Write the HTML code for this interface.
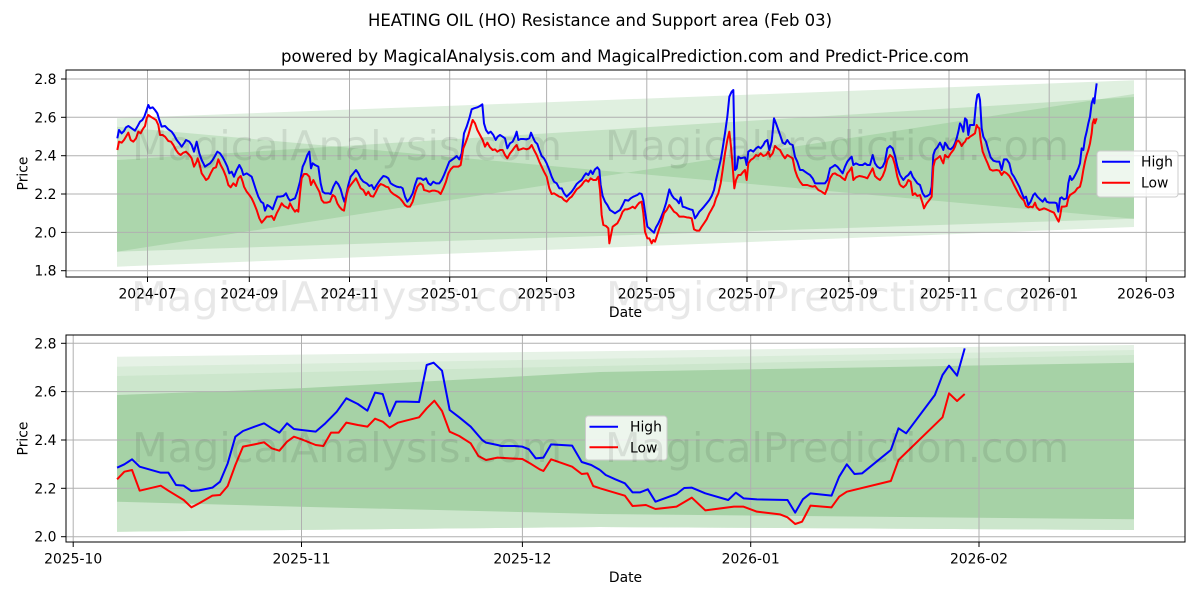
<!DOCTYPE html>
<html><head><meta charset="utf-8"><style>
html,body{margin:0;padding:0;background:#fff}
svg{display:block}
text{font-family:"DejaVu Sans","Liberation Sans",sans-serif;fill:#000}
</style></head><body>
<svg width="1200" height="600" viewBox="0 0 1200 600" xmlns="http://www.w3.org/2000/svg">
<rect width="1200" height="600" fill="#fff"/>

<!-- titles -->
<text x="600" y="26" text-anchor="middle" font-size="16.7" textLength="464" lengthAdjust="spacingAndGlyphs">HEATING OIL (HO) Resistance and Support area (Feb 03)</text>
<text x="625" y="62" text-anchor="middle" font-size="16.7" textLength="688" lengthAdjust="spacingAndGlyphs">powered by MagicalAnalysis.com and MagicalPrediction.com and Predict-Price.com</text>

<!-- ===== TOP CHART ===== -->
<g>
  <polygon points="117,118.3 1134,80.3 1134,227 117,266.7" fill="#008000" fill-opacity="0.12"/>
  <polygon points="117,160 1134,97 1134,218.7 117,251.7" fill="#008000" fill-opacity="0.12"/>
  <polygon points="117,126.7 1134,218.7 1134,94 117,251.7" fill="#008000" fill-opacity="0.12"/>
</g>
<g stroke="#b0b0b0" stroke-width="1" fill="none">
  <line x1="66" y1="79" x2="1185" y2="79"/>
  <line x1="66" y1="117.3" x2="1185" y2="117.3"/>
  <line x1="66" y1="155.7" x2="1185" y2="155.7"/>
  <line x1="66" y1="194" x2="1185" y2="194"/>
  <line x1="66" y1="232.4" x2="1185" y2="232.4"/>
  <line x1="66" y1="270.7" x2="1185" y2="270.7"/>
  <line x1="147.5" y1="70" x2="147.5" y2="277"/>
  <line x1="249.3" y1="70" x2="249.3" y2="277"/>
  <line x1="349.5" y1="70" x2="349.5" y2="277"/>
  <line x1="449.7" y1="70" x2="449.7" y2="277"/>
  <line x1="546.6" y1="70" x2="546.6" y2="277"/>
  <line x1="646.8" y1="70" x2="646.8" y2="277"/>
  <line x1="747" y1="70" x2="747" y2="277"/>
  <line x1="848.8" y1="70" x2="848.8" y2="277"/>
  <line x1="949" y1="70" x2="949" y2="277"/>
  <line x1="1049.2" y1="70" x2="1049.2" y2="277"/>
  <line x1="1146.2" y1="70" x2="1146.2" y2="277"/>
</g>

<!-- top chart series -->
<g fill="none" stroke-width="2" stroke-linejoin="round">
<g transform="translate(100,70) scale(0.333333)">
<polyline vector-effect="non-scaling-stroke" stroke="#0000ff" stroke-width="2" points="52,205 57,180 65,190 72,183 78,172 85,168 95,175 105,182 112,170 120,155 127,150 133,140 140,120 145,105 150,115 158,112 165,120 172,130 178,150 185,170 195,168 205,178 215,185 222,195 230,210 238,220 245,230 252,220 258,210 268,215 275,225 282,245 290,215 298,250 305,270 315,290 322,285 330,280 338,270 345,258 352,245 360,250 368,262 375,275 382,290 388,310 395,305 402,320 410,300 418,285 425,298 430,315 440,310 455,320 460,335 468,360 475,380 483,395 490,400 495,422 502,405 510,410 518,418 525,398 532,380 540,380 550,378 558,370 565,385 570,392 578,388 585,385 592,365 600,335 608,290 615,275 622,255 628,245 633,295 638,280 645,285 655,290 662,340 668,365 675,370 685,370 692,372 700,350 708,335 715,343 722,358 728,380 733,395 738,378 745,345 752,320 760,310 768,300 775,310 782,325 790,335 800,340 808,348 815,345 822,358 830,345 840,330 850,318 858,320 865,325 872,340 880,345 890,350 900,352"/>
<polyline vector-effect="non-scaling-stroke" stroke="#ff0000" stroke-width="2" points="52,240 57,215 65,218 72,210 78,200 85,188 92,210 100,215 108,205 115,185 122,190 128,178 135,168 140,145 145,135 152,140 160,145 168,150 175,165 180,195 188,195 195,200 205,213 213,215 220,225 228,240 235,250 242,255 250,248 258,245 268,255 275,265 282,290 290,275 293,265 298,280 305,310 312,320 318,330 325,325 332,310 340,295 348,292 355,268 362,285 370,300 378,320 385,345 392,352 400,340 408,348 415,325 422,318 428,335 432,350 440,365 448,375 455,385 462,400 470,420 478,445 485,458 492,450 500,440 508,440 515,438 522,450 530,430 538,415 545,400 552,408 560,412 565,415 570,400 578,415 585,425 590,420 595,425 600,370 605,325 612,312 620,312 628,320 633,345 640,330 645,340 650,350 658,365 665,390 672,398 680,398 690,395 698,375 705,380 712,400 718,410 725,418 732,422 740,375 745,355 752,345 760,335 768,325 775,340 782,355 790,360 798,375 805,365 812,378 820,380 828,365 835,350 842,342 850,345 858,350 865,352 872,365 880,372 890,378 900,385"/>
</g>
<g transform="translate(400,70) scale(0.333333)">
<polyline vector-effect="non-scaling-stroke" stroke="#0000ff" stroke-width="2" points="0,350 8,355 15,380 22,395 30,385 38,370 45,345 52,325 62,325 70,330 78,325 85,340 92,345 100,335 108,340 118,340 125,330 132,315 140,295 148,275 155,270 162,265 170,258 178,268 185,250 192,190 200,170 208,145 215,118 222,115 232,112 240,108 247,103 252,160 258,180 265,190 272,185 280,195 287,210 293,200 300,195 308,200 315,205 322,235 330,220 338,215 345,200 350,185 355,210 362,207 370,207 380,208 388,205 393,188 398,200 405,215 412,222 418,240 425,258 432,265 440,280 448,300 455,320 462,335 470,340 478,355 485,355 492,370 500,380 508,372 515,365 522,355 530,342 538,335 545,330 552,318 558,310 565,315 572,302 578,312 585,298 592,292 598,300 602,345 608,378 615,395 622,405 630,420 638,425 645,430 652,425 660,420 668,405 675,390 685,392 692,385 700,380 705,378 712,375 718,370 725,372 730,390 735,425 742,470 748,475 755,482 762,488 768,472 775,460 782,445 790,425 798,400 808,358 815,375 822,385 830,390 837,400 842,382 848,410 855,412 862,415 870,418 878,420 885,445 892,435 898,425 905,418 912,410 920,400 928,390 935,378 942,360 948,330 955,300 962,270 968,235 975,190 982,140 988,80 995,65 1000,60 1005,300 1010,295 1015,260 1022,265 1030,263 1035,262 1040,285 1045,245 1052,240 1060,245 1068,235 1075,230 1082,235 1090,225 1095,215 1102,210 1108,240 1115,215 1122,145 1128,160 1135,180 1142,200 1148,218 1155,222 1162,210 1170,222 1178,225 1185,260 1192,275 1200,300 1208,300 1215,305 1222,310 1230,315 1238,325 1245,340 1255,340 1265,340 1275,340 1282,330 1290,295 1298,290 1305,285 1312,290 1320,300 1328,310 1335,290 1342,275 1350,265 1355,260 1360,285 1368,280 1378,285 1388,285 1395,280 1402,285 1410,285 1418,255 1425,280 1432,290 1440,295 1448,290 1455,275 1462,235 1470,228 1478,235 1485,258 1492,290 1500,315"/>
<polyline vector-effect="non-scaling-stroke" stroke="#ff0000" stroke-width="2" points="0,385 8,395 15,405 22,410 30,410 38,395 45,370 52,350 60,340 68,345 72,360 80,362 88,365 96,362 105,362 115,365 122,372 130,355 138,335 145,310 152,298 160,290 168,290 175,290 182,285 190,235 198,215 205,195 212,170 218,150 225,160 232,180 240,195 248,210 255,230 262,218 270,232 278,240 285,238 292,245 300,240 308,240 315,255 322,265 330,250 338,240 345,230 350,225 355,240 362,238 370,235 380,238 388,235 395,225 402,240 410,255 418,275 425,290 432,305 440,320 448,355 455,372 462,370 470,375 478,380 485,382 492,390 500,395 508,385 515,380 522,370 530,358 538,352 545,345 552,335 558,330 565,335 572,325 580,330 588,330 595,320 600,360 605,435 610,465 618,468 625,475 628,520 632,500 638,470 645,465 652,460 660,445 668,425 675,418 682,418 690,415 698,410 705,415 712,405 718,398 725,395 730,430 735,485 742,505 748,505 755,520 760,510 765,515 770,500 778,475 785,455 792,430 800,420 808,405 815,415 822,425 830,430 838,440 845,440 852,440 860,442 868,443 875,445 882,478 890,482 898,482 905,470 912,460 920,448 928,430 935,418 942,405 948,385 955,370 962,340 968,300 975,250 982,210 988,185 993,230 998,290 1003,355 1008,330 1015,315 1022,315 1030,305 1035,300 1040,330 1045,280 1052,270 1060,265 1068,255 1075,258 1082,250 1090,258 1098,255 1105,245 1110,260 1118,250 1125,228 1132,235 1140,240 1148,255 1155,265 1162,255 1170,260 1178,265 1185,300 1192,320 1200,335 1208,345 1215,345 1222,345 1230,348 1238,350 1245,348 1255,360 1265,365 1275,372 1282,355 1290,325 1298,312 1305,310 1312,315 1320,318 1328,325 1335,330 1342,310 1350,300 1355,292 1360,330 1368,322 1378,318 1388,320 1395,322 1402,325 1410,310 1418,295 1425,318 1432,325 1440,330 1448,318 1455,300 1462,270 1470,255 1478,262 1485,285 1492,320 1500,345"/>
</g>
<g transform="translate(900,70) scale(0.333333)">
<polyline vector-effect="non-scaling-stroke" stroke="#0000ff" stroke-width="2" points="0,315 10,330 18,320 25,315 32,305 38,320 45,330 52,340 60,345 68,370 75,380 82,378 90,372 95,350 100,255 105,240 112,232 120,218 125,228 130,240 135,218 140,225 145,235 152,238 160,230 165,220 170,205 175,185 180,160 185,168 190,185 195,145 200,150 205,195 210,165 215,165 222,165 228,100 232,75 236,72 240,90 245,175 250,200 258,215 265,240 272,262 280,272 290,275 298,275 305,300 312,268 320,268 328,280 335,310 342,320 350,335 358,350 365,368 372,385 378,380 385,405 392,395 400,375 405,370 412,380 420,388 428,395 435,385 440,395 448,398 455,398 465,398 470,400 475,425 480,385 485,382 492,388 500,385 505,340 510,318 515,330 520,325 528,310 535,295 540,280 545,235 550,240 555,205 560,185 565,160 570,140 575,100 580,85 583,100 585,80 590,40"/>
<polyline vector-effect="non-scaling-stroke" stroke="#ff0000" stroke-width="2" points="0,345 10,352 18,345 25,330 32,335 38,375 45,370 52,378 60,375 68,400 72,415 80,400 88,390 95,380 100,290 105,270 112,265 120,258 125,270 130,280 135,255 140,260 145,262 152,250 160,240 165,230 170,215 175,212 180,218 185,228 190,220 195,215 200,205 205,205 210,200 218,195 225,190 230,165 234,172 238,175 242,210 248,245 255,262 262,278 270,298 278,302 290,300 298,302 305,315 312,305 320,310 328,318 335,330 342,345 350,360 358,375 365,385 372,392 378,408 385,412 392,410 398,412 405,398 410,412 418,420 425,418 432,415 440,418 448,422 455,425 462,428 468,440 472,448 476,455 480,440 485,410 492,410 500,408 505,385 510,375 518,370 525,365 532,355 540,350 545,330 550,300 555,275 560,255 565,240 570,220 575,190 578,160 582,148 585,160 590,145"/>
</g>
</g>

<!-- top axes frame & ticks -->
<rect x="66" y="70" width="1119" height="207" fill="none" stroke="#000" stroke-width="1"/>
<g stroke="#000" stroke-width="1">
  <line x1="61" y1="79" x2="66" y2="79"/>
  <line x1="61" y1="117.3" x2="66" y2="117.3"/>
  <line x1="61" y1="155.7" x2="66" y2="155.7"/>
  <line x1="61" y1="194" x2="66" y2="194"/>
  <line x1="61" y1="232.4" x2="66" y2="232.4"/>
  <line x1="61" y1="270.7" x2="66" y2="270.7"/>
  <line x1="147.5" y1="277" x2="147.5" y2="282"/>
  <line x1="249.3" y1="277" x2="249.3" y2="282"/>
  <line x1="349.5" y1="277" x2="349.5" y2="282"/>
  <line x1="449.7" y1="277" x2="449.7" y2="282"/>
  <line x1="546.6" y1="277" x2="546.6" y2="282"/>
  <line x1="646.8" y1="277" x2="646.8" y2="282"/>
  <line x1="747" y1="277" x2="747" y2="282"/>
  <line x1="848.8" y1="277" x2="848.8" y2="282"/>
  <line x1="949" y1="277" x2="949" y2="282"/>
  <line x1="1049.2" y1="277" x2="1049.2" y2="282"/>
  <line x1="1146.2" y1="277" x2="1146.2" y2="282"/>
</g>
<g font-size="13.9" text-anchor="end">
  <text x="56.5" y="84">2.8</text>
  <text x="56.5" y="122.3">2.6</text>
  <text x="56.5" y="160.7">2.4</text>
  <text x="56.5" y="199">2.2</text>
  <text x="56.5" y="237.4">2.0</text>
  <text x="56.5" y="275.7">1.8</text>
</g>
<g font-size="13.9" text-anchor="middle">
  <text x="147.5" y="298.5">2024-07</text>
  <text x="249.3" y="298.5">2024-09</text>
  <text x="349.5" y="298.5">2024-11</text>
  <text x="449.7" y="298.5">2025-01</text>
  <text x="546.6" y="298.5">2025-03</text>
  <text x="646.8" y="298.5">2025-05</text>
  <text x="747" y="298.5">2025-07</text>
  <text x="848.8" y="298.5">2025-09</text>
  <text x="949" y="298.5">2025-11</text>
  <text x="1049.2" y="298.5">2026-01</text>
  <text x="1146.2" y="298.5">2026-03</text>
  <text x="625.5" y="317">Date</text>
  <text transform="translate(27.5,173.5) rotate(-90)">Price</text>
</g>
<!-- top legend -->
<rect x="1097" y="151" width="81" height="46" rx="3" fill="#fff" fill-opacity="0.8" stroke="#cccccc" stroke-width="1"/>
<line x1="1102" y1="161.7" x2="1130" y2="161.7" stroke="#0000ff" stroke-width="2"/>
<line x1="1102" y1="182.7" x2="1130" y2="182.7" stroke="#ff0000" stroke-width="2"/>
<text x="1141" y="166.7" font-size="13.9">High</text>
<text x="1141" y="187.7" font-size="13.9">Low</text>

<!-- ===== BOTTOM CHART ===== -->
<polygon points="117,356.7 1134,345 1134,530 600,527 117,531.7" fill="#e6f2e6"/>
<polygon points="117,366.7 1134,350 1134,530 600,527 117,531.7" fill="#d8ecd8"/>
<polygon points="117,376 1134,355 1134,530 600,527 117,531.7" fill="#cce6cc"/>
<polygon points="117,395 300,388.3 600,372 1134,362.7 1134,519.3 600,514 300,506.7 117,501.7" fill="#a6d2a6"/>
<g stroke="#b0b0b0" stroke-width="1" fill="none">
  <line x1="66" y1="343.3" x2="1185" y2="343.3"/>
  <line x1="66" y1="391.6" x2="1185" y2="391.6"/>
  <line x1="66" y1="440" x2="1185" y2="440"/>
  <line x1="66" y1="488.3" x2="1185" y2="488.3"/>
  <line x1="66" y1="536.7" x2="1185" y2="536.7"/>
  <line x1="73.2" y1="335" x2="73.2" y2="542"/>
  <line x1="301.5" y1="335" x2="301.5" y2="542"/>
  <line x1="522.4" y1="335" x2="522.4" y2="542"/>
  <line x1="750.7" y1="335" x2="750.7" y2="542"/>
  <line x1="979" y1="335" x2="979" y2="542"/>
</g>
<g fill="none" stroke-linejoin="round">
<g transform="translate(0,330) scale(0.3827,0.333333)">
<polyline vector-effect="non-scaling-stroke" stroke="#0000ff" stroke-width="2" points="306,413 325,403 345,388 365,410 420,428 440,428 460,465 480,467 500,483 520,481 555,473 575,455 595,400 615,320 635,303 665,290 690,280 710,295 730,308 750,280 768,297 788,300 825,305 850,280 880,245 905,205 935,222 960,242 980,188 1000,192 1018,258 1035,215 1060,215 1095,216 1115,105 1133,98 1155,122 1175,240 1200,262 1230,290 1260,330 1270,338 1300,345 1310,348 1345,348 1365,350 1382,358 1400,385 1420,383 1440,343 1495,347 1520,396 1545,405 1568,420"/>
<polyline vector-effect="non-scaling-stroke" stroke="#ff0000" stroke-width="2" points="306,448 325,425 345,420 365,482 420,467 440,482 480,510 500,532 520,520 555,497 575,495 595,468 615,405 635,350 665,343 690,337 710,355 730,362 750,335 768,320 788,328 825,345 845,348 865,308 885,308 905,278 935,285 960,290 980,266 1000,275 1018,293 1040,278 1060,272 1095,262 1115,235 1135,212 1155,243 1175,305 1200,318 1230,340 1250,378 1270,390 1300,383 1365,387 1385,400 1410,418 1420,423 1440,388 1495,410 1520,432 1535,430 1550,468 1568,475"/>
</g>
<g transform="translate(600,330) scale(0.3827,0.333333)">
<polyline vector-effect="non-scaling-stroke" stroke="#0000ff" stroke-width="2" points="0,420 15,435 40,448 65,460 85,487 105,487 125,478 145,515 200,492 220,474 240,473 275,490 335,510 355,488 375,505 410,508 490,510 510,548 530,508 550,490 605,497 625,440 645,403 665,432 685,430 760,360 780,295 800,310 875,195 895,135 912,107 933,137 953,55"/>
<polyline vector-effect="non-scaling-stroke" stroke="#ff0000" stroke-width="2" points="0,475 65,497 85,528 120,525 145,537 200,530 240,503 275,541 350,530 375,530 410,545 470,553 490,562 510,582 528,575 550,527 605,532 625,500 645,485 760,453 780,390 895,262 912,190 933,213 953,192"/>
</g>
</g>
<rect x="66" y="335" width="1119" height="207" fill="none" stroke="#000" stroke-width="1"/>
<g stroke="#000" stroke-width="1">
  <line x1="61" y1="343.3" x2="66" y2="343.3"/>
  <line x1="61" y1="391.6" x2="66" y2="391.6"/>
  <line x1="61" y1="440" x2="66" y2="440"/>
  <line x1="61" y1="488.3" x2="66" y2="488.3"/>
  <line x1="61" y1="536.7" x2="66" y2="536.7"/>
  <line x1="73.2" y1="542" x2="73.2" y2="547"/>
  <line x1="301.5" y1="542" x2="301.5" y2="547"/>
  <line x1="522.4" y1="542" x2="522.4" y2="547"/>
  <line x1="750.7" y1="542" x2="750.7" y2="547"/>
  <line x1="979" y1="542" x2="979" y2="547"/>
</g>
<g font-size="13.9" text-anchor="end">
  <text x="56.5" y="348.3">2.8</text>
  <text x="56.5" y="396.6">2.6</text>
  <text x="56.5" y="445">2.4</text>
  <text x="56.5" y="493.3">2.2</text>
  <text x="56.5" y="541.7">2.0</text>
</g>
<g font-size="13.9" text-anchor="middle">
  <text x="73.2" y="563.5">2025-10</text>
  <text x="301.5" y="563.5">2025-11</text>
  <text x="522.4" y="563.5">2025-12</text>
  <text x="750.7" y="563.5">2026-01</text>
  <text x="979" y="563.5">2026-02</text>
  <text x="625.5" y="582">Date</text>
  <text transform="translate(27.5,438.5) rotate(-90)">Price</text>
</g>
<!-- bottom legend -->
<rect x="585.5" y="416" width="81.5" height="44" rx="3" fill="#fff" fill-opacity="0.8" stroke="#cccccc" stroke-width="1"/>
<line x1="589.5" y1="426.7" x2="618" y2="426.7" stroke="#0000ff" stroke-width="2"/>
<line x1="589.5" y1="447.3" x2="618" y2="447.3" stroke="#ff0000" stroke-width="2"/>
<text x="630" y="431.7" font-size="13.9">High</text>
<text x="630" y="452.3" font-size="13.9">Low</text>

<!-- watermarks -->
<g font-size="41" fill="#7f7f7f" fill-opacity="0.09">
  <text x="132" y="160" textLength="430" lengthAdjust="spacingAndGlyphs">MagicalAnalysis.com</text>
  <text x="605" y="160" textLength="464" lengthAdjust="spacingAndGlyphs">MagicalPrediction.com</text>
  <text x="131" y="311" textLength="432" lengthAdjust="spacingAndGlyphs">MagicalAnalysis.com</text>
  <text x="606" y="311" textLength="464" lengthAdjust="spacingAndGlyphs">MagicalPrediction.com</text>
  <text x="132" y="462" textLength="430" lengthAdjust="spacingAndGlyphs">MagicalAnalysis.com</text>
  <text x="605" y="462" textLength="464" lengthAdjust="spacingAndGlyphs">MagicalPrediction.com</text>
</g>
</svg>
</body></html>
